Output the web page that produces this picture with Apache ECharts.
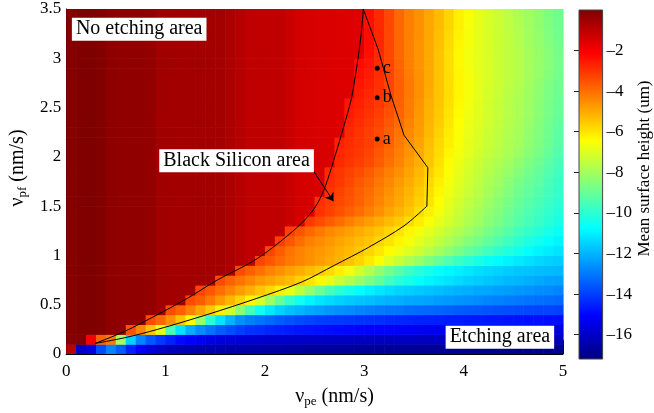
<!DOCTYPE html>
<html><head><meta charset="utf-8">
<script src="https://cdn.jsdelivr.net/npm/echarts@6/dist/echarts.min.js"></script>
<style>html,body{margin:0;padding:0;background:#fff}#c{width:654px;height:413px}</style>
</head><body><div id="c"></div>
<script>
// ---- data ----
const xCenters = [0.05,0.15,0.25,0.35,0.45,0.55,0.65,0.75,0.85,0.95,1.05,1.15,1.25,1.35,1.45,1.55,1.65,1.75,1.85,1.95,2.05,2.15,2.25,2.35,2.45,2.55,2.65,2.75,2.85,2.95,3.05,3.15,3.25,3.35,3.45,3.55,3.65,3.75,3.85,3.95,4.05,4.15,4.25,4.35,4.45,4.55,4.65,4.75,4.85,4.95];
const yCenters = [0.05,0.15,0.25,0.35,0.45,0.55,0.65,0.75,0.85,0.95,1.05,1.15,1.25,1.35,1.45,1.55,1.65,1.75,1.85,1.95,2.05,2.15,2.25,2.35,2.45,2.55,2.65,2.75,2.85,2.95,3.05,3.15,3.25,3.35,3.45];
// mean surface height in the no-etching (dark red) area, per column
const noEtchingRed = [-0.12,-0.02,0,-0.05,-0.25,-0.3,-0.3,-0.3,-0.35,-0.55,-0.58,-0.58,-0.58,-0.58,-0.58,-0.6,-0.75,-0.92,-1.08,-1.09,-1.1,-1.1,-1.25,-1.42,-1.45,-1.5,-1.53,-1.57,-1.6,-1.63];
// mean surface height right of the no-etching area, each row (bottom to top) ends at x = 4.95
const etchedRows = [
[-1.0,-16.0,-15.6,-13.8,-12.8,-13.5,-14.5,-15.2,-15.7,-16.0,-16.2,-16.3,-16.35,-16.4,-16.4,-16.45,-16.5,-16.5,-16.55,-16.55,-16.6,-16.6,-16.65,-16.65,-16.7,-16.7,-16.7,-16.75,-16.75,-16.8,-16.8,-16.8,-16.8,-16.8,-16.85,-16.85,-16.85,-16.85,-16.85,-16.85,-16.9,-16.9,-16.9,-16.9,-16.9,-16.9,-16.9,-16.9,-16.9,-16.9],
[-2.0,-3.8,-4.2,-8.0,-11.5,-12.8,-13.6,-14.1,-14.5,-14.9,-15.1,-15.3,-15.5,-15.6,-15.7,-15.75,-15.8,-15.85,-15.9,-15.9,-15.95,-15.95,-16.0,-16.0,-16.05,-16.05,-16.05,-16.1,-16.1,-16.1,-16.1,-16.1,-16.1,-16.15,-16.15,-16.15,-16.15,-16.15,-16.15,-16.15,-16.15,-16.2,-16.2,-16.2,-16.2,-16.2,-16.2,-16.2],
[-3.5,-4.4,-5.5,-6.8,-9.5,-11.2,-12.1,-12.7,-13.1,-13.5,-13.75,-14.0,-14.2,-14.3,-14.4,-14.5,-14.6,-14.7,-14.75,-14.8,-14.85,-14.9,-14.95,-15.0,-15.05,-15.1,-15.1,-15.15,-15.2,-15.25,-15.3,-15.3,-15.35,-15.4,-15.4,-15.45,-15.45,-15.5,-15.5,-15.55,-15.55,-15.6,-15.6,-15.6],
[-3.4,-3.9,-4.6,-5.4,-6.4,-8.2,-10.0,-11.2,-12.0,-12.6,-12.9,-13.1,-13.3,-13.5,-13.65,-13.8,-13.9,-14.0,-14.05,-14.1,-14.15,-14.2,-14.25,-14.3,-14.35,-14.4,-14.45,-14.5,-14.5,-14.55,-14.6,-14.6,-14.65,-14.65,-14.7,-14.7,-14.75,-14.75,-14.8,-14.8,-14.85,-14.85],
[-3.4,-3.8,-4.3,-4.9,-5.5,-6.2,-7.2,-8.4,-9.6,-10.5,-11.1,-11.5,-11.8,-12.0,-12.2,-12.35,-12.5,-12.6,-12.7,-12.8,-12.9,-13.0,-13.05,-13.1,-13.2,-13.25,-13.3,-13.35,-13.4,-13.5,-13.55,-13.6,-13.65,-13.7,-13.75,-13.8,-13.85,-13.9,-13.9,-13.95],
[-3.4,-3.7,-4.2,-4.7,-5.2,-5.7,-6.3,-7.1,-8.1,-9.1,-9.9,-10.5,-10.9,-11.15,-11.35,-11.5,-11.65,-11.75,-11.85,-11.95,-12.05,-12.1,-12.2,-12.25,-12.3,-12.4,-12.45,-12.55,-12.6,-12.7,-12.8,-12.85,-12.95,-13.0,-13.1,-13.15,-13.2,-13.25],
[-3.3,-3.6,-4.0,-4.4,-4.75,-5.1,-5.45,-5.8,-6.2,-6.8,-7.5,-8.2,-8.9,-9.5,-10.0,-10.4,-10.7,-10.95,-11.15,-11.3,-11.45,-11.55,-11.65,-11.75,-11.85,-11.95,-12.05,-12.1,-12.2,-12.25,-12.35,-12.4,-12.5,-12.55,-12.65,-12.7,-12.8],
[-3.4,-3.8,-4.1,-4.4,-4.7,-4.9,-5.1,-5.3,-5.65,-6.0,-6.35,-6.85,-7.35,-7.8,-8.25,-8.7,-9.15,-9.65,-10.1,-10.4,-10.65,-10.9,-11.05,-11.2,-11.35,-11.5,-11.6,-11.7,-11.8,-11.95,-12.0,-12.1,-12.2,-12.3,-12.35],
[-3.4,-3.75,-4.05,-4.35,-4.6,-4.85,-5.05,-5.3,-5.55,-5.85,-6.2,-6.7,-7.2,-7.75,-8.3,-8.8,-9.3,-9.75,-10.1,-10.4,-10.65,-10.85,-11.0,-11.15,-11.3,-11.4,-11.5,-11.6,-11.7,-11.75,-11.85,-11.9,-11.95],
[-3.3,-3.6,-3.9,-4.2,-4.4,-4.6,-4.8,-5.0,-5.2,-5.45,-5.75,-6.1,-6.5,-6.95,-7.4,-7.8,-8.2,-8.6,-9.0,-9.4,-9.75,-10.05,-10.35,-10.6,-10.8,-10.95,-11.1,-11.25,-11.4,-11.5,-11.6],
[-3.3,-3.7,-4.1,-4.35,-4.55,-4.7,-4.9,-5.1,-5.3,-5.5,-5.75,-6.05,-6.4,-6.7,-7.0,-7.3,-7.65,-8.0,-8.35,-8.7,-9.05,-9.35,-9.65,-9.95,-10.2,-10.45,-10.7,-10.9,-11.05,-11.2],
[-3.2,-3.6,-4.0,-4.3,-4.5,-4.7,-4.9,-5.1,-5.3,-5.5,-5.75,-6.0,-6.3,-6.6,-6.9,-7.2,-7.5,-7.85,-8.2,-8.5,-8.8,-9.1,-9.4,-9.7,-10.0,-10.25,-10.5,-10.7,-10.9],
[-3.2,-3.55,-3.9,-4.2,-4.45,-4.65,-4.85,-5.05,-5.25,-5.5,-5.75,-6.0,-6.3,-6.6,-6.9,-7.2,-7.5,-7.8,-8.1,-8.4,-8.7,-9.0,-9.3,-9.6,-9.85,-10.1,-10.35,-10.6],
[-3.1,-3.4,-3.7,-4.0,-4.3,-4.55,-4.8,-5.05,-5.3,-5.55,-5.85,-6.15,-6.5,-6.85,-7.15,-7.5,-7.8,-8.1,-8.4,-8.7,-9.0,-9.3,-9.55,-9.8,-10.05,-10.35],
[-3.0,-3.25,-3.5,-3.75,-4.0,-4.3,-4.6,-4.9,-5.2,-5.5,-5.85,-6.2,-6.6,-7.0,-7.35,-7.65,-7.95,-8.25,-8.55,-8.85,-9.15,-9.4,-9.65,-9.9,-10.15],
[-2.95,-3.15,-3.35,-3.55,-3.8,-4.1,-4.4,-4.7,-5.0,-5.3,-5.65,-6.0,-6.45,-6.85,-7.2,-7.5,-7.8,-8.1,-8.4,-8.7,-9.0,-9.25,-9.5,-9.75,-10.0],
[-3.0,-3.25,-3.5,-3.75,-4.0,-4.3,-4.6,-4.9,-5.2,-5.55,-5.9,-6.3,-6.7,-7.05,-7.35,-7.65,-7.95,-8.25,-8.55,-8.85,-9.1,-9.35,-9.6,-9.9],
[-2.9,-3.1,-3.35,-3.6,-3.85,-4.15,-4.45,-4.75,-5.05,-5.4,-5.8,-6.2,-6.6,-6.95,-7.25,-7.55,-7.85,-8.1,-8.4,-8.7,-8.95,-9.2,-9.5,-9.8],
[-2.85,-3.05,-3.25,-3.45,-3.7,-4.0,-4.3,-4.6,-4.9,-5.25,-5.65,-6.05,-6.5,-6.85,-7.15,-7.45,-7.7,-7.95,-8.2,-8.5,-8.8,-9.05,-9.35,-9.65],
[-2.85,-3.05,-3.2,-3.4,-3.7,-4.05,-4.4,-4.75,-5.1,-5.5,-5.95,-6.4,-6.75,-7.05,-7.35,-7.6,-7.8,-8.05,-8.3,-8.6,-8.9,-9.2,-9.5],
[-2.8,-2.95,-3.1,-3.3,-3.6,-3.95,-4.3,-4.65,-5.0,-5.45,-5.85,-6.3,-6.6,-6.9,-7.2,-7.45,-7.65,-7.85,-8.1,-8.4,-8.7,-9.0,-9.35],
[-2.7,-2.9,-3.05,-3.2,-3.45,-3.8,-4.2,-4.55,-4.9,-5.35,-5.8,-6.2,-6.55,-6.85,-7.1,-7.35,-7.55,-7.8,-8.0,-8.3,-8.6,-8.9,-9.25],
[-2.8,-3.0,-3.2,-3.4,-3.75,-4.1,-4.45,-4.8,-5.25,-5.7,-6.15,-6.5,-6.8,-7.05,-7.3,-7.5,-7.75,-7.95,-8.25,-8.55,-8.85,-9.2],
[-2.7,-2.9,-3.1,-3.3,-3.6,-3.95,-4.35,-4.75,-5.2,-5.6,-6.05,-6.45,-6.75,-7.0,-7.25,-7.45,-7.7,-7.9,-8.2,-8.5,-8.8,-9.1],
[-2.6,-2.8,-3.0,-3.2,-3.5,-3.85,-4.25,-4.7,-5.15,-5.55,-6.0,-6.4,-6.7,-6.95,-7.2,-7.4,-7.65,-7.85,-8.1,-8.4,-8.7,-9.0],
[-2.5,-2.7,-2.9,-3.1,-3.45,-3.8,-4.25,-4.65,-5.1,-5.5,-5.95,-6.35,-6.65,-6.95,-7.2,-7.4,-7.65,-7.85,-8.1,-8.4,-8.7,-8.95],
[-2.6,-2.8,-3.0,-3.35,-3.75,-4.2,-4.6,-5.05,-5.45,-5.9,-6.3,-6.6,-6.9,-7.15,-7.35,-7.6,-7.8,-8.05,-8.35,-8.65,-8.9],
[-2.5,-2.7,-2.95,-3.3,-3.75,-4.2,-4.6,-5.0,-5.45,-5.9,-6.3,-6.6,-6.9,-7.1,-7.3,-7.55,-7.75,-8.0,-8.3,-8.6,-8.85],
[-2.4,-2.6,-2.9,-3.3,-3.8,-4.25,-4.6,-5.0,-5.45,-5.9,-6.3,-6.6,-6.9,-7.1,-7.3,-7.5,-7.7,-7.95,-8.2,-8.5,-8.8],
[-2.3,-2.5,-2.85,-3.3,-3.85,-4.3,-4.65,-5.0,-5.45,-5.9,-6.35,-6.65,-6.9,-7.1,-7.3,-7.5,-7.7,-7.95,-8.2,-8.45,-8.75],
[-2.4,-2.85,-3.35,-3.9,-4.3,-4.65,-5.0,-5.45,-5.9,-6.35,-6.65,-6.9,-7.1,-7.3,-7.5,-7.7,-7.95,-8.2,-8.45,-8.75],
[-2.35,-2.8,-3.35,-3.9,-4.3,-4.65,-5.0,-5.4,-5.85,-6.3,-6.6,-6.9,-7.1,-7.3,-7.5,-7.75,-8.0,-8.25,-8.5,-8.8],
[-2.35,-2.8,-3.35,-3.9,-4.3,-4.6,-4.95,-5.35,-5.8,-6.25,-6.6,-6.85,-7.1,-7.3,-7.5,-7.75,-8.0,-8.25,-8.55,-8.8],
[-2.4,-2.85,-3.35,-3.9,-4.3,-4.6,-4.95,-5.3,-5.75,-6.2,-6.55,-6.85,-7.1,-7.3,-7.55,-7.8,-8.05,-8.3,-8.6,-8.85],
[-2.4,-2.85,-3.35,-3.9,-4.3,-4.6,-4.95,-5.3,-5.75,-6.2,-6.55,-6.85,-7.1,-7.3,-7.55,-7.8,-8.05,-8.3,-8.6,-8.85]
];
// black silicon area boundary [v_pe, v_pf]
const upperCurve = [[0.29,0.107],[0.59,0.23],[0.92,0.40],[1.22,0.565],[1.52,0.75],[1.92,0.966],[2.32,1.28],[2.50,1.48],[2.60,1.68],[2.70,1.99],[2.80,2.33],[2.87,2.59],[2.93,2.95],[2.97,3.26],[2.99,3.5]];
const rightEdge = [[2.99,3.5],[3.14,3.09],[3.27,2.62],[3.40,2.22],[3.64,1.89],[3.63,1.50]];
const lowerCurve = [[3.63,1.50],[3.40,1.30],[3.04,1.08],[2.70,0.90],[2.37,0.73],[1.92,0.565],[1.42,0.40],[0.92,0.25],[0.59,0.165],[0.29,0.107]];
const sampleNames = ['a','b','c'];
const sampleX = [3.13,3.13,3.13];
const sampleY = [2.18,2.60,2.90];
const areaNames = ['No etching area','Black Silicon area','Etching area'];
const areaX = [0.735,1.715,4.365];
const areaY = [3.295,1.96,0.17];
const arrowFrom = [2.48,1.87];
const arrowTo = [2.69,1.55];
const colorTicks = [-16,-14,-12,-10,-8,-6,-4,-2];
const heightMin = -17.2, heightMax = 0;

// ---- build cell table ----
const cells = [];
yCenters.forEach((y, j) => {
  const tail = etchedRows[j];
  const start = xCenters.length - tail.length;
  xCenters.forEach((x, i) => {
    const v = i < start ? noEtchingRed[i] : tail[i - start];
    cells.push([x, y, v]);
  });
});
const cellW = 0.1, cellH = 0.1;
const FONT = "'Liberation Serif','DejaVu Serif',serif";
const jet = ['#00007f','#0000ff','#007fff','#00ffff','#7fff7f','#ffff00','#ff7f00','#ff0000','#7f0000'];
const jetStops = jet.map((c, k) => ({offset: 1 - k / (jet.length - 1), color: c})).reverse();

const chart = echarts.init(document.getElementById('c'), null, {renderer:'canvas'});
const axisText = {color:'#000', fontFamily:FONT, fontSize:17};
chart.setOption({
  animation:false,
  textStyle:{fontFamily:FONT},
  grid:[
    {left:63, top:9, width:500, height:349, show:false},
    {left:579, top:10, width:26, height:349, show:false}
  ],
  xAxis:[
    {type:'value', gridIndex:0, min:0, max:5, interval:1,
     axisLine:{show:true, lineStyle:{color:'#000'}},
     axisTick:{inside:true, length:14, lineStyle:{color:'#000'}},
     axisLabel:Object.assign({margin:9}, axisText),
     splitLine:{show:false},
     name:'{v|ν}{s|pe}{v| (nm/s)}', nameLocation:'middle', nameGap:32,
     nameTextStyle:{padding:[0,0,0,40], rich:{v:{fontSize:20, fontFamily:FONT, color:'#000'}, s:{fontSize:13, fontFamily:FONT, color:'#000', padding:[9,0,0,0]}}}
    },
    {type:'value', gridIndex:1, min:0, max:1, show:false}
  ],
  yAxis:[
    {type:'value', gridIndex:0, min:0, max:3.5, interval:0.5,
     axisLine:{show:true, lineStyle:{color:'#000'}},
     axisTick:{inside:true, length:14, lineStyle:{color:'#000'}},
     axisLabel:Object.assign({margin:5}, axisText),
     splitLine:{show:false},
     name:'{v|ν}{s|pf}{v| (nm/s)}', nameLocation:'middle', nameGap:34, nameRotate:90,
     nameTextStyle:{padding:[0,0,0,27], rich:{v:{fontSize:20, fontFamily:FONT, color:'#000'}, s:{fontSize:13, fontFamily:FONT, color:'#000', padding:[9,0,0,0]}}}
    },
    {type:'value', gridIndex:1, min:heightMin, max:heightMax, position:'right',
     axisLine:{show:false},
     axisTick:{show:true, inside:true, length:5, customValues:colorTicks, lineStyle:{color:'#222'}},
     axisLabel:Object.assign({margin:4, inside:false, customValues:colorTicks,
                              formatter:v => (v < 0 ? '\u2013' : '') + Math.abs(v)}, axisText),
     splitLine:{show:false},
     name:'Mean surface height (um)', nameLocation:'middle', nameGap:30, nameRotate:90,
     nameTextStyle:{fontSize:17, fontFamily:FONT, color:'#000', padding:[0,0,0,32]}
    }
  ],
  visualMap:{type:'continuous', show:false, min:heightMin, max:heightMax, dimension:2, seriesIndex:0,
    inRange:{color:jet}},
  series:[
    {type:'custom', xAxisIndex:0, yAxisIndex:0, clip:true, data:cells, encode:{x:0, y:1}, z:1,
     renderItem:(params, api) => {
       const x = api.value(0), y = api.value(1);
       const p0 = api.coord([x - cellW/2, y + cellH/2]);
       const p1 = api.coord([x + cellW/2, y - cellH/2]);
       return {type:'rect', shape:{x:p0[0], y:p0[1], width:p1[0]-p0[0]+0.6, height:p1[1]-p0[1]+0.6},
               style:{fill:api.visual('color')}};
     }},
    {type:'line', data:upperCurve, smooth:0.3, symbol:'none', lineStyle:{color:'#000', width:1}, z:3},
    {type:'line', data:rightEdge, symbol:'none', lineStyle:{color:'#000', width:1}, z:3},
    {type:'line', data:lowerCurve, smooth:0.3, symbol:'none', lineStyle:{color:'#000', width:1}, z:3},
    {type:'scatter', data:sampleX.map((x,k)=>({name:sampleNames[k], value:[x, sampleY[k]]})),
     symbolSize:5, itemStyle:{color:'#000', opacity:1}, z:4,
     label:{show:true, position:'right', distance:3, formatter:'{b}', color:'#000', fontFamily:FONT, fontSize:18}},
    {type:'lines', coordinateSystem:'cartesian2d', data:[{coords:[arrowFrom, arrowTo]}],
     symbol:['none','arrow'], symbolSize:8, lineStyle:{color:'#000', width:1, opacity:1}, z:4},
    {type:'scatter', data:areaX.map((x,k)=>({name:areaNames[k], value:[x, areaY[k]]})),
     symbolSize:1, itemStyle:{color:'rgba(0,0,0,0)', opacity:1}, z:5,
     label:{show:true, position:'inside', formatter:'{b}', color:'#000', fontFamily:FONT, fontSize:20, lineHeight:20,
            backgroundColor:'#ffffff', opacity:1, padding:[2,4,1,4]}},
    // colour bar
    {type:'custom', xAxisIndex:1, yAxisIndex:1, data:[[heightMin, heightMax]], z:2, silent:true,
     renderItem:(params, api) => {
       const top = api.coord([0, api.value(1)]);
       const bot = api.coord([1, api.value(0)]);
       return {type:'rect', shape:{x:top[0], y:top[1], width:bot[0]-top[0], height:bot[1]-top[1]},
               style:{fill:new echarts.graphic.LinearGradient(0,0,0,1,jetStops), stroke:'#444', lineWidth:1}};
     }}
  ]
});
</script></body></html>
